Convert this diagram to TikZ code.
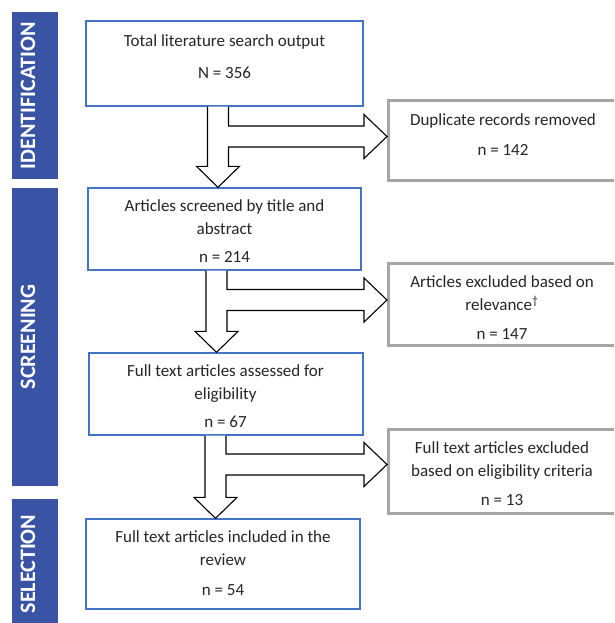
\documentclass[tikz,border=0pt]{standalone}
\usepackage{fontspec}
\setmainfont{Carlito}
\usetikzlibrary{calc}
\definecolor{barblue}{RGB}{57,84,164}
\definecolor{boxblue}{RGB}{68,114,196}
\definecolor{boxgray}{RGB}{166,166,166}
\definecolor{txt}{RGB}{38,38,38}
\tikzset{
  bar/.style={fill=barblue, draw=none, inner sep=0pt, outer sep=0pt},
  bartext/.style={text=white, font=\fontsize{22}{26}\selectfont\bfseries, rotate=90, anchor=base, inner sep=0pt},
  stagebox/.style={draw=boxblue, line width=1.3pt, fill=white, inner sep=0pt},
  exclbox/.style={draw=boxgray, line width=3pt, fill=white, inner sep=0pt},
  boxtext/.style={text=txt, font=\fontsize{17}{23}\selectfont, align=center, anchor=north, inner sep=0pt},
  blockarrow/.style={draw=black, line width=1.1pt, fill=white, line join=miter},
}
\newcommand\splitarrow[5]{%
  \path[blockarrow] let \p1=(#1.south), \p2=(#2.north), \p3=(#3.west) in
    ({#4pt+10.5pt},\y1) -- ({#4pt+10.5pt},{#5pt+10.5pt}) -- ({\x3-23pt},{#5pt+10.5pt})
    -- ({\x3-23pt},{#5pt+22pt}) -- (\x3,{#5pt}) -- ({\x3-23pt},{#5pt-22pt})
    -- ({\x3-23pt},{#5pt-10.5pt}) -- ({#4pt+10.5pt},{#5pt-10.5pt})
    -- ({#4pt+10.5pt},{\y2+21pt}) -- ({#4pt+21.5pt},{\y2+21pt}) -- ({#4pt},\y2)
    -- ({#4pt-21.5pt},{\y2+21pt}) -- ({#4pt-10.5pt},{\y2+21pt}) -- ({#4pt-10.5pt},\y1);%
}
\begin{document}
\begin{tikzpicture}[x=1pt, y=1pt]
\useasboundingbox (0,0) rectangle (614,-623);
\clip (0,0) rectangle (614,-623);

% stage bars
\node[bar, minimum width=46pt, minimum height=167pt] (idbar) at (35,-95.5) {};
\node[bartext] (idlab) at (35,-95.5) {IDENTIFICATION};
\node[bar, minimum width=46pt, minimum height=298pt] (scrbar) at (35,-337) {};
\node[bartext] (scrlab) at (35,-337) {SCREENING};
\node[bar, minimum width=46pt, minimum height=130pt] (selbar) at (35,-564) {};
\node[bartext] (sellab) at (35,-564) {SELECTION};

% main boxes
\node[stagebox, minimum width=277pt, minimum height=85pt] (b1) at (224.5,-63.5) {};
\node[stagebox, minimum width=273pt, minimum height=82pt] (b2) at (224.5,-229) {};
\node[stagebox, minimum width=274pt, minimum height=82pt] (b3) at (226,-394) {};
\node[stagebox, minimum width=274pt, minimum height=90pt] (b4) at (223,-564) {};

% exclusion boxes
\node[exclbox, minimum width=251.5pt, minimum height=80pt] (d1) at (514.25,-140.5) {};
\node[exclbox, minimum width=251.5pt, minimum height=82pt] (d2) at (514.25,-304.5) {};
\node[exclbox, minimum width=251.5pt, minimum height=84pt] (d3) at (514.25,-471.5) {};

% texts
\node[boxtext] (b1t) at (224.5,-34.5) {Total literature search output\\[9pt]N = 356};
\node[boxtext] (b2t) at (224.5,-199.5) {Articles screened by title and\\abstract\\[5pt]n = 214};
\node[boxtext] (b3t) at (225.5,-364.5) {Full text articles assessed for\\eligibility\\[5pt]n = 67};
\node[boxtext] (b4t) at (223,-530.5) {Full text articles included in the\\review\\[7pt]n = 54};
\node[boxtext] (d1t) at (503,-113.5) {Duplicate records removed\\[7pt]n = 142};
\node[boxtext] (d2t) at (502,-275.5) {Articles excluded based on\\relevance\textsuperscript{\textdagger}\\[6pt]n = 147};
\node[boxtext] (d3t) at (502,-441.5) {Full text articles excluded\\based on eligibility criteria\\[6pt]n = 13};

% split block arrows
\splitarrow{b1}{b2}{d1}{218}{-136.5}
\splitarrow{b2}{b3}{d2}{216.5}{-300}
\splitarrow{b3}{b4}{d3}{215.5}{-464.5}
\end{tikzpicture}
\end{document}
